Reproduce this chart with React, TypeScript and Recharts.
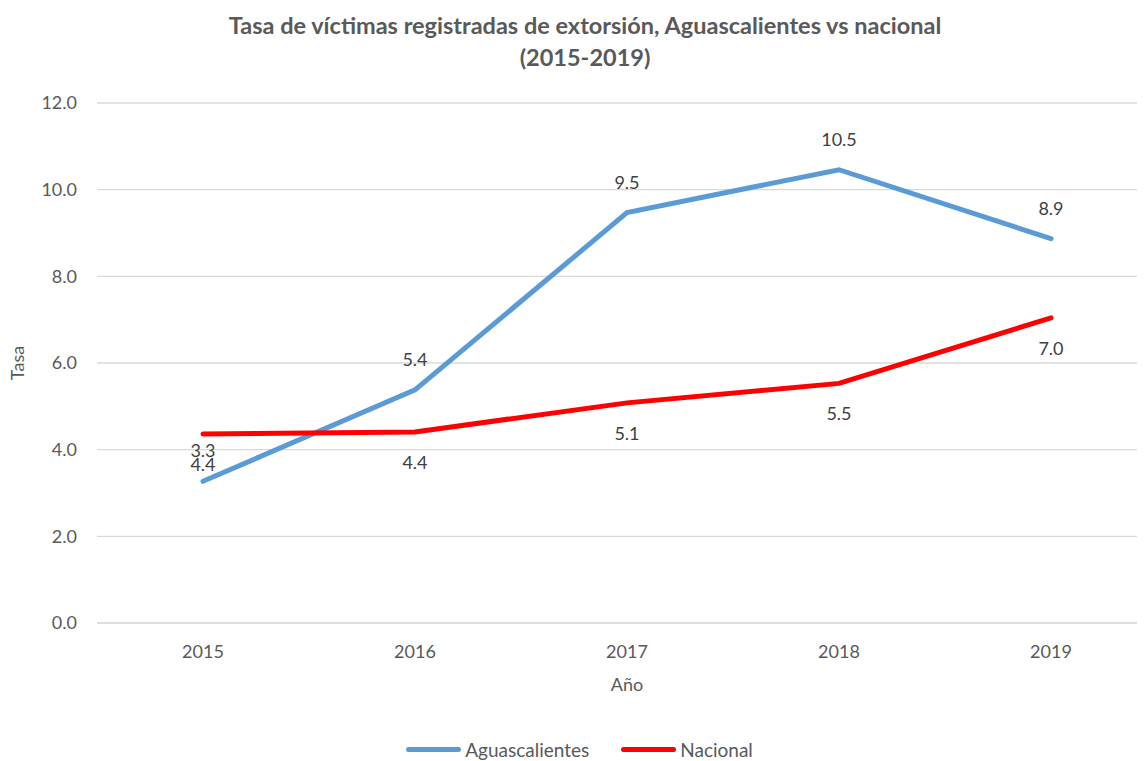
import React from 'react';
import { LineChart, Line, XAxis, YAxis, CartesianGrid, LabelList, Legend } from 'recharts';

const years = ['2015', '2016', '2017', '2018', '2019'];
const aguascalientes = [3.27, 5.38, 9.47, 10.46, 8.87];
const nacional = [4.36, 4.41, 5.08, 5.53, 7.04];
const yTicks = [0, 2, 4, 6, 8, 10, 12];
const titleLines = ['Tasa de víctimas registradas de extorsión, Aguascalientes vs nacional', '(2015-2019)'];

const data = years.map((y, i) => ({ year: y, Aguascalientes: aguascalientes[i], Nacional: nacional[i] }));

const FONT = 'Lato, "Open Sans", sans-serif';
const GREY = '#595959';

const fmt = (v: any) => Number(v).toFixed(1);

const LegendContent = (props: any) => {
  const { payload } = props;
  return (
    <div style={{ display: 'flex', justifyContent: 'center', alignItems: 'center', height: 26, fontFamily: FONT, fontSize: 19, color: GREY, paddingLeft: 14 }}>
      {(payload || []).map((p: any, i: number) => (
        <div key={i} style={{ display: 'flex', alignItems: 'center', marginLeft: i === 0 ? 0 : 32 }}>
          <div style={{ width: 55, height: 5, borderRadius: 3, background: p.color, marginRight: 4 }} />
          <span>{p.value}</span>
        </div>
      ))}
    </div>
  );
};

const YLabel = (props: any) => {
  const vb = props.viewBox || {};
  const cx = 17;
  const cy = vb.y + vb.height / 2;
  return (
    <text x={cx} y={cy} transform={`rotate(-90, ${cx}, ${cy})`} textAnchor="middle" dominantBaseline="central"
      fill={GREY} fontSize={18} fontFamily={FONT}>Tasa</text>
  );
};

export default function App() {
  return (
    <div style={{ margin: -8, width: 1145, height: 769, overflow: 'hidden', position: 'relative', background: '#fff' }}>
      <div style={{ position: 'absolute', top: 9, left: 0, width: 1170, textAlign: 'center', fontFamily: FONT, fontWeight: 700, fontSize: 23.5, color: GREY, lineHeight: '32px', zIndex: 2 }}>
        {titleLines.map((t, i) => <div key={i}>{t}</div>)}
      </div>
      <LineChart width={1160} height={761} data={data} margin={{ top: 103, right: 3, left: 0, bottom: 42 }}>
        <CartesianGrid vertical={false} stroke="#d9d9d9" strokeWidth={1.3} />
        <XAxis dataKey="year" height={70} padding={{ left: 106, right: 106 }} axisLine={{ stroke: '#d9d9d9' }} tickLine={false} tickMargin={16}
          tick={{ fill: GREY, fontSize: 18, fontFamily: FONT }}
          label={{ value: 'Año', position: 'insideTop', offset: 55, fill: GREY, fontSize: 18, fontFamily: FONT }} />
        <YAxis width={97} domain={[0, 12]} ticks={yTicks} tickFormatter={fmt} axisLine={false} tickLine={false} tickMargin={14}
          tick={{ fill: GREY, fontSize: 18, fontFamily: FONT }} label={<YLabel />} />
        <Legend content={<LegendContent />} wrapperStyle={{ position: 'absolute', top: 736, left: 0, width: 1145, height: 26 }} />
        <Line type="linear" dataKey="Aguascalientes" stroke="#5b9bd5" strokeWidth={5} dot={false} strokeLinecap="round" isAnimationActive={false}>
          <LabelList dataKey="Aguascalientes" position="top" offset={24} formatter={fmt} fill="#404040" fontSize={18} fontFamily={FONT} />
        </Line>
        <Line type="linear" dataKey="Nacional" stroke="#ff0000" strokeWidth={5} dot={false} strokeLinecap="round" isAnimationActive={false}>
          <LabelList dataKey="Nacional" position="bottom" offset={24} formatter={fmt} fill="#404040" fontSize={18} fontFamily={FONT} />
        </Line>
      </LineChart>
    </div>
  );
}
